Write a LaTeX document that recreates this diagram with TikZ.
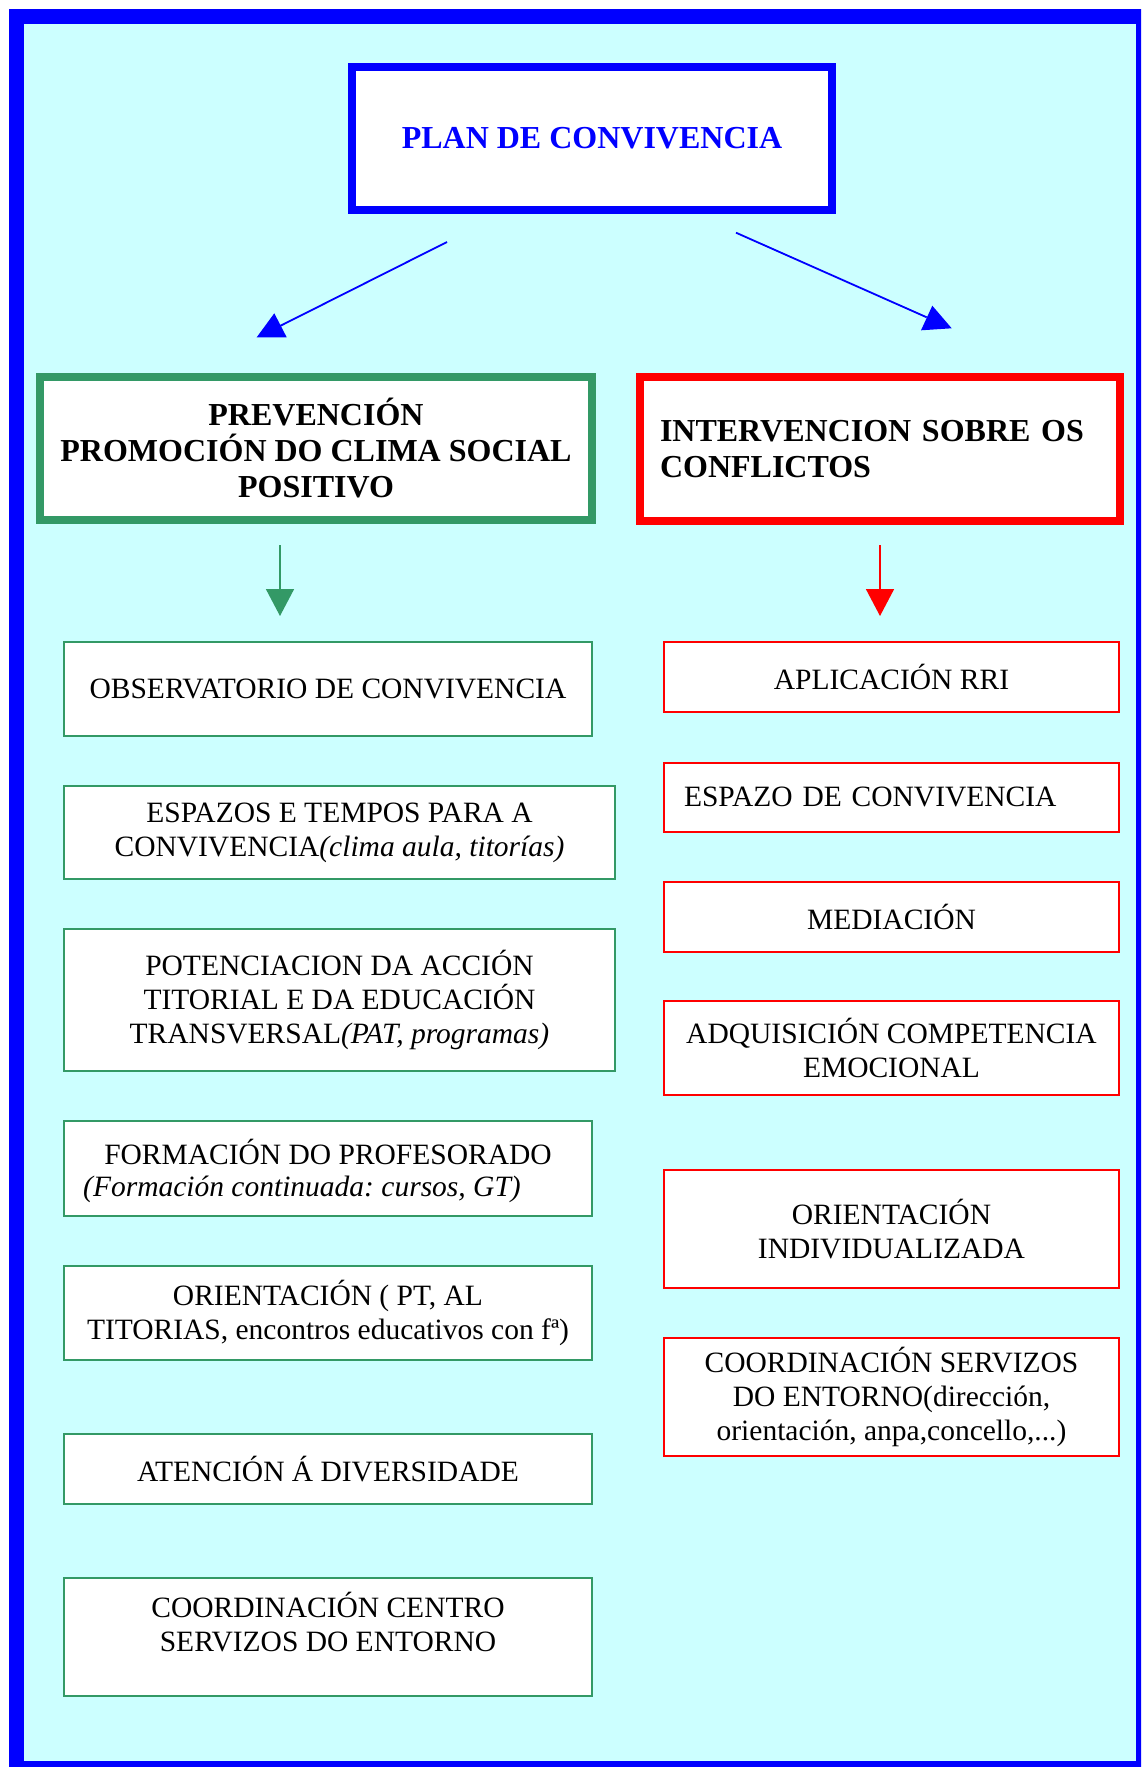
\documentclass[tikz,border=0pt]{standalone}
\usepackage{fontspec}
\setmainfont{Liberation Serif}
\usetikzlibrary{arrows.meta}
\definecolor{pgreen}{RGB}{51,153,102}
\definecolor{bgcyan}{RGB}{204,255,255}
\frenchspacing
\tikzset{
  bigbox/.style={draw, line width=8pt, fill=white, inner sep=0pt},
  gsmall/.style={draw=pgreen, line width=2pt, fill=white, inner sep=0pt},
  rsmall/.style={draw=red, line width=2pt, fill=white, inner sep=0pt},
  reg/.style={font=\fontsize{29.5}{34}\selectfont\frenchspacing},
  bld/.style={font=\fontsize{32}{36}\selectfont\bfseries\frenchspacing},
  garrow/.style={draw=pgreen, line width=1.6pt, -{Triangle[length=27pt,width=28pt]}, color=pgreen},
  rarrow/.style={draw=red, line width=1.6pt, -{Triangle[length=27pt,width=28pt]}, color=red},
  bline/.style={draw=blue, line width=1.8pt},
}
\begin{document}
\begin{tikzpicture}[x=1pt,y=-1pt]
\useasboundingbox (0,0) rectangle (1141,1767);
\clip (0,0) rectangle (1141,1767);
\fill[white] (0,0) rectangle (1141,1767);
\fill[bgcyan] (9,9) rectangle (1141,1767);
\draw[blue, line width=15pt] (16.5,16.5) rectangle (1143.5,1768.5);

% top box
\node[bigbox, draw=blue, minimum width=480pt, minimum height=143pt, bld, text=blue] (title) at (592,138) {PLAN DE CONVIVENCIA};

% diagonal arrows
\coordinate (a1s) at (447,242);
\coordinate (a1e) at (280,326);
\coordinate (a2s) at (736,232.7);
\coordinate (a2e) at (926.7,317.3);
\draw[bline] (a1s) -- (a1e);
\fill[blue] (274.3,313.3) -- (256.7,337.3) -- (286.7,337.3) -- cycle;
\draw[bline] (a2s) -- (a2e);
\fill[blue] (932.3,305.7) -- (921,330.3) -- (951.7,328.3) -- cycle;

% main boxes
\node[bigbox, draw=pgreen, minimum width=552pt, minimum height=143pt, bld, align=center] (prev) at (316,448.5) {PREVENCIÓN\\PROMOCIÓN DO CLIMA SOCIAL\\POSITIVO};
\node[bigbox, draw=red, minimum width=480pt, minimum height=144pt, bld, align=left, text width=440pt] (interv) at (880,449) {INTERVENCION SOBRE OS\\CONFLICTOS};

% vertical arrows
\coordinate (g1) at (280,545);
\coordinate (g2) at (280,616);
\coordinate (r1c) at (880,545);
\coordinate (r2c) at (880,616);
\draw[garrow] (g1) -- (g2);
\draw[rarrow] (r1c) -- (r2c);

% left column
\node[gsmall, reg, minimum width=528pt, minimum height=94pt, align=center] (b1) at (328,689) {OBSERVATORIO DE CONVIVENCIA};
\node[gsmall, reg, minimum width=551pt, minimum height=93pt, align=center] (b2) at (339.5,832.5) {ESPAZOS E TEMPOS PARA A\\CONVIVENCIA\textit{(clima aula, titorías)}};
\node[gsmall, reg, minimum width=551pt, minimum height=142pt, align=center] (b3) at (339.5,1000) {POTENCIACION DA ACCIÓN\\TITORIAL E DA EDUCACIÓN\\TRANSVERSAL\textit{(PAT, programas)}};
\node[gsmall, minimum width=528pt, minimum height=95pt] (b4) at (328,1168.5) {};
\node[reg, anchor=base] (b4a) at (328,1164) {FORMACIÓN DO PROFESORADO};
\node[reg, anchor=base west, inner sep=0pt] (b4b) at (83,1196) {\itshape (Formación continuada: cursos, GT)};
\node[gsmall, reg, minimum width=528pt, minimum height=94pt, align=center] (b5) at (328,1313) {ORIENTACIÓN ( PT, AL\\TITORIAS, encontros educativos con fª)};
\node[gsmall, reg, minimum width=528pt, minimum height=70pt, align=center] (b6) at (328,1469) {ATENCIÓN Á DIVERSIDADE};
\node[gsmall, minimum width=528pt, minimum height=118pt] (b7) at (328,1637) {};
\node[reg, align=center] (b7t) at (328,1622) {COORDINACIÓN CENTRO\\SERVIZOS DO ENTORNO};

% right column
\node[rsmall, reg, minimum width=455pt, minimum height=70pt, align=center] (c1) at (891.5,677) {APLICACIÓN RRI};
\node[rsmall, reg, minimum width=455pt, minimum height=69pt, align=left, text width=415pt] (c2) at (891.5,797) {ESPAZO DE CONVIVENCIA};
\node[rsmall, reg, minimum width=455pt, minimum height=70pt, align=center] (c3) at (891.5,917) {MEDIACIÓN};
\node[rsmall, reg, minimum width=455pt, minimum height=94pt, align=center] (c4) at (891.5,1048) {ADQUISICIÓN COMPETENCIA\\EMOCIONAL};
\node[rsmall, reg, minimum width=455pt, minimum height=118pt, align=center] (c5) at (891.5,1229) {ORIENTACIÓN\\INDIVIDUALIZADA};
\node[rsmall, reg, minimum width=455pt, minimum height=118pt, align=center] (c6) at (891.5,1397) {COORDINACIÓN SERVIZOS\\DO ENTORNO(dirección,\\orientación, anpa,concello,...)};
\end{tikzpicture}
\end{document}
